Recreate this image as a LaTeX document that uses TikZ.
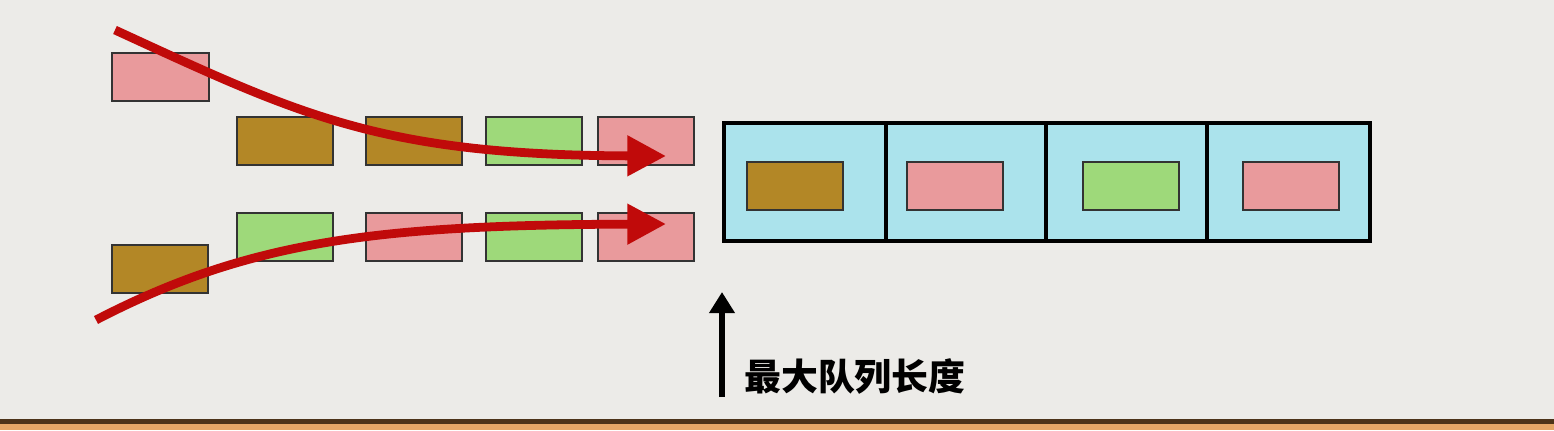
\documentclass[tikz,border=0pt]{standalone}
\usepackage{fontspec}
\newfontfamily\cjk{Noto Sans CJK SC}
\usetikzlibrary{arrows.meta}
\definecolor{bg}{HTML}{ECEBE8}
\definecolor{pk}{HTML}{E99A9C}
\definecolor{br}{HTML}{B38726}
\definecolor{gr}{HTML}{9ED97A}
\definecolor{cy}{HTML}{ABE3EC}
\definecolor{rd}{HTML}{C00A0A}
\tikzset{x=0.02cm,y=-0.02cm,
  pkt/.style={draw=black!80,line width=0.8pt},
  redarrow/.style={draw=rd,line width=5pt,-{Triangle[length=22pt,width=22pt]}}}
\begin{document}
\begin{tikzpicture}
\fill[bg] (0,0) rectangle (1554,430);
\useasboundingbox (0,0) rectangle (1554,430);
\fill[black!60!brown] (0,419) rectangle (1554,424);
\fill[brown!60!orange!70] (0,424) rectangle (1554,430);
% packets
\draw[pkt,fill=pk] (112,53) rectangle (209,101);
\draw[pkt,fill=br] (237,117) rectangle (333,165);
\draw[pkt,fill=br] (366,117) rectangle (462,165);
\draw[pkt,fill=gr] (486,117) rectangle (582,165);
\draw[pkt,fill=pk] (598,117) rectangle (694,165);
\draw[pkt,fill=gr] (237,213) rectangle (333,261);
\draw[pkt,fill=pk] (366,213) rectangle (462,261);
\draw[pkt,fill=gr] (486,213) rectangle (582,261);
\draw[pkt,fill=pk] (598,213) rectangle (694,261);
\draw[pkt,fill=br] (112,245) rectangle (208,293);
% queue
\draw[fill=cy,line width=1.8pt] (724,123) rectangle (1370,241);
\foreach \x in {886,1046,1207} \draw[line width=1.8pt] (\x,123) -- (\x,241);
\draw[pkt,fill=br] (747,162) rectangle (843,210);
\draw[pkt,fill=pk] (907,162) rectangle (1003,210);
\draw[pkt,fill=gr] (1083,162) rectangle (1179,210);
\draw[pkt,fill=pk] (1243,162) rectangle (1339,210);
% red arrows
\coordinate (a1) at (115,30); \coordinate (b1) at (666,156);
\coordinate (a2) at (96,320); \coordinate (b2) at (666,224);
\draw[redarrow] (a1) .. controls (300,115) and (380,155) .. (b1);
\draw[redarrow] (a2) .. controls (250,240) and (380,225) .. (b2);
% max queue length
\coordinate (u0) at (722,397); \coordinate (u1) at (722,292);
\draw[line width=3pt,-{Triangle[length=12pt,width=14pt]}] (u0) -- (u1);
\node[anchor=west,font=\cjk\bfseries\fontsize{21}{24}\selectfont] (lbl) at (738,376) {最大队列长度};
\end{tikzpicture}
\end{document}
